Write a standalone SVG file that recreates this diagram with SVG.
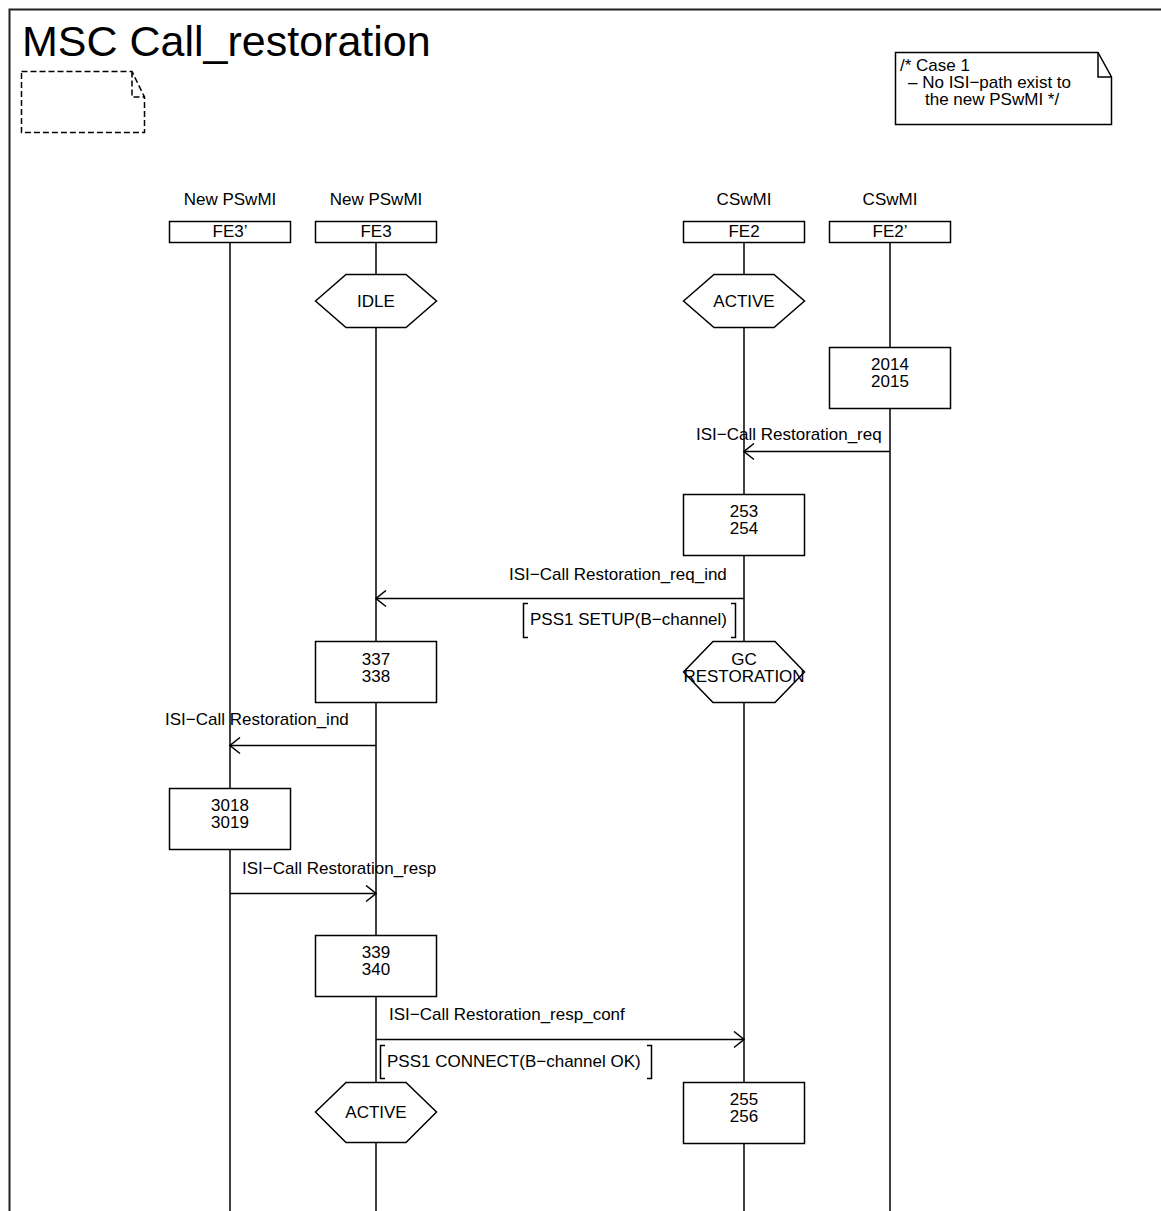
<svg xmlns="http://www.w3.org/2000/svg" width="1161" height="1211" viewBox="0 0 1161 1211">
<style>
text{font-family:"Liberation Sans",Arial,sans-serif;font-size:17px;fill:#000}
.c{text-anchor:middle}
.s{fill:#fff;stroke:#000;stroke-width:1.5}
.l{fill:none;stroke:#000;stroke-width:1.5}
.d{fill:none;stroke:#000;stroke-width:1.5;stroke-dasharray:6 3}
</style>
<defs>
<marker id="ah" viewBox="0 0 12 18" refX="11" refY="9" markerWidth="12" markerHeight="18" markerUnits="userSpaceOnUse" orient="auto">
<path d="M1,1 L11,9 L1,17" fill="none" stroke="#000" stroke-width="1.5"/>
</marker>
</defs>
<rect width="1161" height="1211" fill="#fff"/>
<g id="frame">
<path d="M9.5,1211 V9.5 H1161" fill="none" stroke="#222" stroke-width="2"/>
<text x="22" y="56" style="font-size:43px">MSC Call_restoration</text>
<path class="d" d="M21.5,71.5 H132 L144.5,97 V132.5 H21.5 Z M132,71.5 V97 H144.5"/>
</g>
<g id="comment">
<path class="s" d="M895.5,52.5 H1098 L1111.5,77 V124.5 H895.5 Z"/>
<path class="l" d="M1098,52.5 V77 H1111.5"/>
<text x="900" y="71">/* Case 1</text>
<text x="908" y="88">– No ISI−path exist to</text>
<text x="925" y="105">the new PSwMI */</text>
</g>
<g id="lifelines">
<line class="l" x1="230" y1="242" x2="230" y2="1211"/>
<line class="l" x1="376" y1="242" x2="376" y2="1211"/>
<line class="l" x1="744" y1="242" x2="744" y2="1211"/>
<line class="l" x1="890" y1="242" x2="890" y2="1211"/>
</g>
<g id="FE3p">
<text class="c" x="230" y="205">New PSwMI</text>
<rect class="s" x="169.5" y="221.5" width="121" height="21"/>
<text class="c" x="230" y="237">FE3’</text>
</g>
<g id="FE3">
<text class="c" x="376" y="205">New PSwMI</text>
<rect class="s" x="315.5" y="221.5" width="121" height="21"/>
<text class="c" x="376" y="237">FE3</text>
</g>
<g id="FE2">
<text class="c" x="744" y="205">CSwMI</text>
<rect class="s" x="683.5" y="221.5" width="121" height="21"/>
<text class="c" x="744" y="237">FE2</text>
</g>
<g id="FE2p">
<text class="c" x="890" y="205">CSwMI</text>
<rect class="s" x="829.5" y="221.5" width="121" height="21"/>
<text class="c" x="890" y="237">FE2’</text>
</g>
<g id="state_idle">
<path class="s" d="M315.5,301 L346,274.5 H406 L436.5,301 L406,327.5 H346 Z"/>
<text class="c" x="376" y="307">IDLE</text>
</g>
<g id="state_active_fe2">
<path class="s" d="M683.5,301 L714,274.5 H774 L804.5,301 L774,327.5 H714 Z"/>
<text class="c" x="744" y="307">ACTIVE</text>
</g>
<g id="task_2014">
<rect class="s" x="829.5" y="347.5" width="121" height="61"/>
<text class="c" x="890" y="370">2014</text>
<text class="c" x="890" y="387">2015</text>
</g>
<g id="task_253">
<rect class="s" x="683.5" y="494.5" width="121" height="61"/>
<text class="c" x="744" y="517">253</text>
<text class="c" x="744" y="534">254</text>
</g>
<g id="param_setup">
<path class="l" d="M528,603.5 H523.5 V637.5 H528 M731,603.5 H735.5 V637.5 H731"/>
<text x="530" y="625">PSS1 SETUP(B−channel)</text>
</g>
<g id="state_gc">
<path class="s" d="M683.5,672 L713,641.5 H775 L804.5,672 L775,702.5 H713 Z"/>
<text class="c" x="744" y="665">GC</text>
<text class="c" x="744" y="682">RESTORATION</text>
</g>
<g id="task_337">
<rect class="s" x="315.5" y="641.5" width="121" height="61"/>
<text class="c" x="376" y="665">337</text>
<text class="c" x="376" y="682">338</text>
</g>
<g id="task_3018">
<rect class="s" x="169.5" y="788.5" width="121" height="61"/>
<text class="c" x="230" y="811">3018</text>
<text class="c" x="230" y="828">3019</text>
</g>
<g id="task_339">
<rect class="s" x="315.5" y="935.5" width="121" height="61"/>
<text class="c" x="376" y="958">339</text>
<text class="c" x="376" y="975">340</text>
</g>
<g id="param_connect">
<path class="l" d="M385,1045.5 H380.5 V1078.5 H385 M647,1045.5 H651.5 V1078.5 H647"/>
<text x="387" y="1067">PSS1 CONNECT(B−channel OK)</text>
</g>
<g id="state_active_fe3">
<path class="s" d="M315.5,1112 L346,1082.5 H406 L436.5,1112 L406,1142.5 H346 Z"/>
<text class="c" x="376" y="1118">ACTIVE</text>
</g>
<g id="task_255">
<rect class="s" x="683.5" y="1082.5" width="121" height="61"/>
<text class="c" x="744" y="1105">255</text>
<text class="c" x="744" y="1122">256</text>
</g>
<g id="connectors">
<line class="l" x1="890" y1="451.5" x2="744" y2="451.5" marker-end="url(#ah)"/>
<text x="696" y="440">ISI−Call Restoration_req</text>
<line class="l" x1="744" y1="598.5" x2="376" y2="598.5" marker-end="url(#ah)"/>
<text x="509" y="580">ISI−Call Restoration_req_ind</text>
<line class="l" x1="376" y1="745.5" x2="230" y2="745.5" marker-end="url(#ah)"/>
<text x="165" y="725">ISI−Call Restoration_ind</text>
<line class="l" x1="230" y1="893.5" x2="376" y2="893.5" marker-end="url(#ah)"/>
<text x="242" y="874">ISI−Call Restoration_resp</text>
<line class="l" x1="376" y1="1039.5" x2="744" y2="1039.5" marker-end="url(#ah)"/>
<text x="389" y="1020">ISI−Call Restoration_resp_conf</text>
</g>
</svg>
